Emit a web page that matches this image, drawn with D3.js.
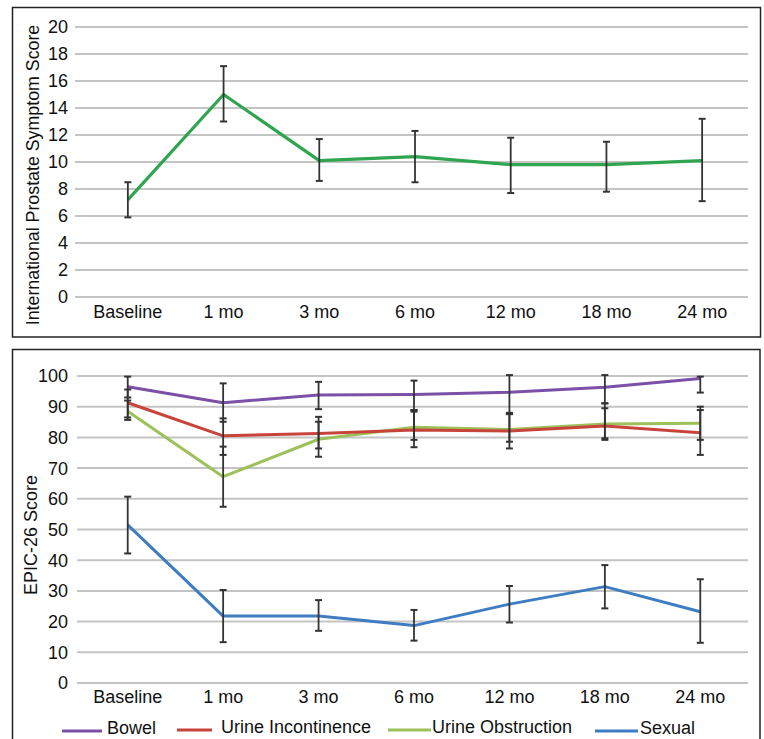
<!DOCTYPE html>
<html>
<head>
<meta charset="utf-8">
<script src="https://cdn.jsdelivr.net/npm/d3@7"></script>
<style>
  html, body { margin: 0; padding: 0; background: #fff; }
  svg { display: block; }
  text { font-family: "Liberation Sans", Arial, Helvetica, sans-serif; fill: #111; }
</style>
</head>
<body>
<svg id="chart" width="764" height="739"></svg>
<script>
// ---------- data ----------
const categories = ["Baseline", "1 mo", "3 mo", "6 mo", "12 mo", "18 mo", "24 mo"];

// Top panel: IPSS
const ipssMean = [7.2, 15.0, 10.1, 10.4, 9.8, 9.8, 10.1];
const ipssLow  = [5.9, 13.0, 8.6, 8.5, 7.7, 7.8, 7.1];
const ipssHigh = [8.5, 17.1, 11.7, 12.3, 11.8, 11.5, 13.2];
const ipssTicks = [0, 2, 4, 6, 8, 10, 12, 14, 16, 18, 20];

// Bottom panel: EPIC-26
const seriesNames = ["Bowel", "Urine Incontinence", "Urine Obstruction", "Sexual"];
const bowelMean = [96.5, 91.3, 93.8, 94.0, 94.7, 96.3, 99.2];
const bowelLow  = [93.0, 85.1, 89.2, 88.9, 87.6, 91.1, 94.6];
const bowelHigh = [99.8, 97.6, 98.1, 98.5, 100.3, 100.3, 99.8];
const incontMean = [91.3, 80.5, 81.3, 82.4, 82.1, 83.7, 81.5];
const incontLow  = [86.5, 74.3, 76.4, 76.8, 76.4, 79.2, 74.3];
const incontHigh = [95.6, 86.2, 86.7, 88.4, 88.0, 89.5, 88.9];
const obstrMean = [88.5, 67.2, 79.4, 83.3, 82.6, 84.4, 84.6];
const obstrLow  = [85.7, 57.4, 73.7, 79.2, 78.6, 79.7, 79.2];
const obstrHigh = [92.0, 77.0, 85.1, 88.9, 87.6, 91.1, 90.0];
const sexualMean = [51.5, 21.8, 21.8, 18.7, 25.7, 31.4, 23.2];
const sexualLow  = [42.2, 13.3, 17.0, 13.8, 19.7, 24.3, 13.1];
const sexualHigh = [60.7, 30.3, 27.0, 23.8, 31.6, 38.4, 33.8];
const epicTicks = [0, 10, 20, 30, 40, 50, 60, 70, 80, 90, 100];

// ---------- styles ----------
const ipssColor = "#30a550";
const seriesColors = ["#7b50a6", "#c8443a", "#9cc15a", "#3f7dc3"];
const gridColor = "#c4c4c4";
const errColor = "#333333";
const fs = 18;

const svg = d3.select("#chart");

// ---------- helpers ----------
function drawGrid(g, y, ticks, x0, x1) {
  g.append("g").selectAll("line").data(ticks).join("line")
    .attr("x1", x0 - 4).attr("x2", x1)
    .attr("y1", d => y(d)).attr("y2", d => y(d))
    .attr("stroke", gridColor).attr("stroke-width", 2);
  g.append("g").selectAll("text").data(ticks).join("text")
    .attr("x", 68).attr("y", d => y(d)).attr("dy", "0.36em")
    .attr("text-anchor", "end").attr("font-size", fs)
    .text(d => d);
}
function drawXLabels(g, x, yPos) {
  g.append("g").selectAll("text").data(categories).join("text")
    .attr("x", d => x(d) + x.bandwidth() / 2).attr("y", yPos)
    .attr("text-anchor", "middle").attr("font-size", fs)
    .text(d => d);
}
function drawErr(g, x, y, lo, hi) {
  const cx = d => x(d) + x.bandwidth() / 2;
  const eg = g.append("g");
  eg.selectAll("line.v").data(categories).join("line").attr("class", "v")
    .attr("x1", cx).attr("x2", cx)
    .attr("y1", (d, i) => y(lo[i])).attr("y2", (d, i) => y(hi[i]))
    .attr("stroke", errColor).attr("stroke-width", 1.8);
  [lo, hi].forEach(arr => {
    eg.append("g").selectAll("line").data(categories).join("line")
      .attr("x1", d => cx(d) - 3.5).attr("x2", d => cx(d) + 3.5)
      .attr("y1", (d, i) => y(arr[i])).attr("y2", (d, i) => y(arr[i]))
      .attr("stroke", errColor).attr("stroke-width", 2);
  });
}
function drawLine(g, x, y, vals, color, w) {
  const line = d3.line()
    .x((d, i) => x(categories[i]) + x.bandwidth() / 2)
    .y(d => y(d));
  g.append("path").datum(vals).attr("d", line)
    .attr("fill", "none").attr("stroke", color).attr("stroke-width", w)
    .attr("stroke-linejoin", "round");
}

// ---------- top panel ----------
const topPanel = svg.append("g");
topPanel.append("rect").attr("x", 12.5).attr("y", 7.5).attr("width", 748).attr("height", 329.5)
  .attr("fill", "none").attr("stroke", "#222").attr("stroke-width", 1.5);
const xTop = d3.scaleBand().domain(categories).range([80, 750]);
const yTop = d3.scaleLinear().domain([0, 20]).range([297, 27]);
drawGrid(topPanel, yTop, ipssTicks, 79, 748);
drawXLabels(topPanel, xTop, 318);
topPanel.append("text")
  .attr("transform", `translate(39,${(22 + 328) / 2}) rotate(-90)`)
  .attr("text-anchor", "middle").attr("font-size", 17.8)
  .text("International Prostate Symptom Score");
drawLine(topPanel, xTop, yTop, ipssMean, ipssColor, 3.2);
drawErr(topPanel, xTop, yTop, ipssLow, ipssHigh);

// ---------- bottom panel ----------
const botPanel = svg.append("g");
botPanel.append("rect").attr("x", 12.5).attr("y", 349.5).attr("width", 747.5).attr("height", 400)
  .attr("fill", "none").attr("stroke", "#222").attr("stroke-width", 1.5);
const xBot = d3.scaleBand().domain(categories).range([80, 748]);
const yBot = d3.scaleLinear().domain([0, 100]).range([683, 376]);
drawGrid(botPanel, yBot, epicTicks, 81, 748);
drawXLabels(botPanel, xBot, 703);
botPanel.append("text")
  .attr("transform", `translate(37,535) rotate(-90)`)
  .attr("text-anchor", "middle").attr("font-size", 18)
  .text("EPIC-26 Score");

const means = [bowelMean, incontMean, obstrMean, sexualMean];
const lows = [bowelLow, incontLow, obstrLow, sexualLow];
const highs = [bowelHigh, incontHigh, obstrHigh, sexualHigh];
[3, 2, 1, 0].forEach(k => drawLine(botPanel, xBot, yBot, means[k], seriesColors[k], 3));
[0, 1, 2, 3].forEach(k => drawErr(botPanel, xBot, yBot, lows[k], highs[k]));

// legend
const legendItems = [
  { name: seriesNames[0], x1: 62, x2: 102, tx: 107, ly: 731, ty: 734 },
  { name: seriesNames[1], x1: 177, x2: 212, tx: 221, ly: 730, ty: 733 },
  { name: seriesNames[2], x1: 388, x2: 431, tx: 432, ly: 730, ty: 733 },
  { name: seriesNames[3], x1: 595, x2: 638, tx: 640, ly: 731, ty: 734 }
];
const lg = botPanel.append("g");
legendItems.forEach((d, i) => {
  lg.append("line").attr("x1", d.x1).attr("x2", d.x2).attr("y1", d.ly).attr("y2", d.ly)
    .attr("stroke", seriesColors[i]).attr("stroke-width", 3);
  lg.append("text").attr("x", d.tx).attr("y", d.ty).attr("font-size", 18).text(d.name);
});
</script>
</body>
</html>
